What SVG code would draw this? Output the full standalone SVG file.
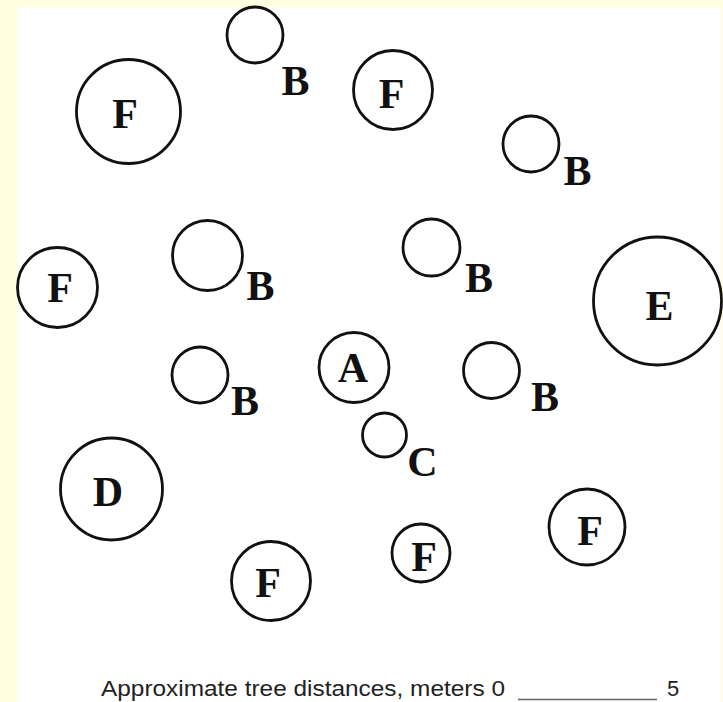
<svg xmlns="http://www.w3.org/2000/svg" width="723" height="702" viewBox="0 0 723 702">
<style>
.t{fill:none;stroke:#111;stroke-width:2.8}
.l{font-family:"Liberation Serif","Times New Roman",serif;font-weight:bold;font-size:42px;fill:#111;text-anchor:middle}
.f{font-family:"Liberation Sans",Arial,sans-serif;font-size:22px;fill:#222}
</style>
<rect x="0" y="0" width="723" height="702" fill="#FFFFE0"/>
<rect x="17" y="7" width="704" height="695" fill="#FFFFFF"/>
<g id="tree-F1"><circle class="t" cx="128.5" cy="111.5" r="52"/><text class="l" x="125" y="128">F</text></g>
<g id="tree-B1"><circle class="t" cx="255" cy="35" r="28"/><text class="l" x="295.5" y="95">B</text></g>
<g id="tree-F2"><circle class="t" cx="393" cy="90" r="39.5"/><text class="l" x="391.5" y="108">F</text></g>
<g id="tree-B2"><circle class="t" cx="531" cy="144" r="28"/><text class="l" x="577.5" y="185">B</text></g>
<g id="tree-F3"><circle class="t" cx="57.5" cy="287.5" r="40"/><text class="l" x="60" y="302">F</text></g>
<g id="tree-B3"><circle class="t" cx="207.5" cy="255.5" r="35"/><text class="l" x="260.5" y="300">B</text></g>
<g id="tree-B4"><circle class="t" cx="431.5" cy="247.5" r="28.5"/><text class="l" x="479" y="292">B</text></g>
<g id="tree-E"><circle class="t" cx="657.5" cy="301" r="64"/><text class="l" x="659.5" y="320">E</text></g>
<g id="tree-A"><circle class="t" cx="354" cy="367.5" r="35"/><text class="l" x="353" y="382">A</text></g>
<g id="tree-B5"><circle class="t" cx="200" cy="375" r="28"/><text class="l" x="245" y="415">B</text></g>
<g id="tree-B6"><circle class="t" cx="491.5" cy="370.5" r="28"/><text class="l" x="545" y="411">B</text></g>
<g id="tree-C"><circle class="t" cx="384.5" cy="435" r="22"/><text class="l" x="422.5" y="476">C</text></g>
<g id="tree-D"><circle class="t" cx="111.5" cy="489" r="51"/><text class="l" x="108" y="506">D</text></g>
<g id="tree-F4"><circle class="t" cx="587" cy="527" r="38"/><text class="l" x="590" y="545">F</text></g>
<g id="tree-F5"><circle class="t" cx="421" cy="553" r="29"/><text class="l" x="424" y="571">F</text></g>
<g id="tree-F6"><circle class="t" cx="271" cy="581" r="39.5"/><text class="l" x="268" y="597">F</text></g>
<g id="scale">
<text class="f" x="101" y="696" textLength="404" lengthAdjust="spacingAndGlyphs">Approximate tree distances, meters 0</text>
<line x1="518" y1="699.5" x2="657" y2="699.5" stroke="#666" stroke-width="1.5"/>
<text class="f" x="667" y="696">5</text>
</g>
</svg>
